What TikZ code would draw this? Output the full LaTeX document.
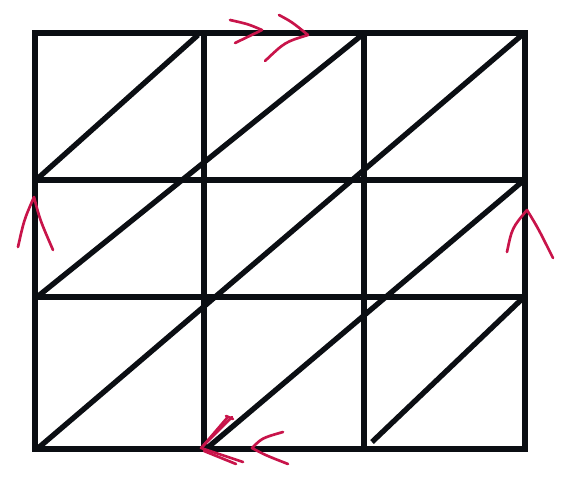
\documentclass[tikz,border=0pt]{standalone}
\usepackage{tikz}
\usepackage{xcolor}
\definecolor{ink}{HTML}{0B0E13}
\definecolor{markred}{HTML}{C8144A}
\tikzset{
  gridline/.style={draw=ink,line width=1.7mm,line cap=rect},
  diagline/.style={draw=ink,line width=1.6mm,line cap=butt},
  redmark/.style={draw=markred,line width=0.8mm,line cap=round,line join=round}
}
\begin{document}
\begin{tikzpicture}[x=0.03cm,y=-0.03cm]
  \useasboundingbox (0,0) rectangle (584,504);
  % grid
  \foreach \x in {35,204,364,525} \draw[gridline] (\x,33) -- (\x,449);
  \foreach \y in {33,180,297,449} \draw[gridline] (35,\y) -- (525,\y);
  % diagonals
  \draw[diagline] (36,180) -- (198,35);
  \draw[diagline] (37,297) -- (362,35);
  \draw[diagline] (37,449) -- (522,35);
  \draw[diagline] (206,449) -- (523,181);
  \draw[diagline] (372,442) -- (523,298);

  % top marks
  \draw[redmark] (230,20) .. controls (248,24) .. (262,30) .. controls (248,37) .. (235,43);
  \draw[redmark] (279,15) .. controls (292,22) .. (308,35) .. controls (285,42) .. (265,61);
  % side marks
  \draw[redmark] (18,247) .. controls (24,220) .. (34,197) .. controls (40,220) .. (53,250);
  \draw[redmark] (507,252) .. controls (512,228) .. (527,210) .. controls (538,228) .. (553,258);
  % bottom marks
  \draw[redmark] (232,417) -- (201,448) -- (243,462);
  \draw[redmark] (226,416) -- (233,419);
  \draw[redmark] (227,418) -- (203,446);
  \draw[redmark] (236,464) -- (204,451);
  \draw[redmark] (283,432) .. controls (262,438) .. (252,448) .. controls (265,455) .. (288,464);
\end{tikzpicture}
\end{document}
